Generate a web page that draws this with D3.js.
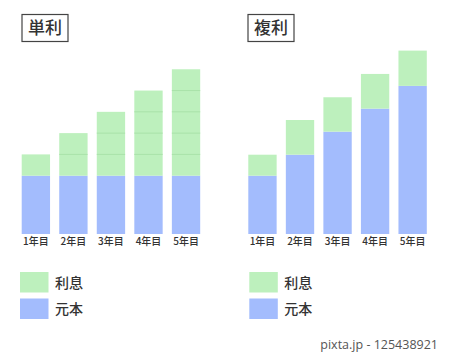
<!DOCTYPE html>
<html>
<head>
<meta charset="utf-8">
<script src="https://cdn.jsdelivr.net/npm/d3@7"></script>
<style>
  html, body { margin: 0; padding: 0; background: #fff; }
  svg { display: block; font-family: "Noto Sans CJK JP", "Noto Sans", sans-serif; }
</style>
</head>
<body>
<svg id="chart" width="450" height="353"></svg>
<script>
// ---- data ----
const YEARS = ['1年目', '2年目', '3年目', '4年目', '5年目'];
const SIMPLE_PRINCIPAL = [100, 100, 100, 100, 100];
const SIMPLE_INTEREST_PER_YEAR = 36.5;
const SIMPLE_YEARS_ACCRUED = [1, 2, 3, 4, 5];
const COMPOUND_PRINCIPAL = [100, 136, 175.5, 215, 254];
const COMPOUND_INTEREST = [36, 59.5, 59, 59.5, 60.5];
const LEGEND = [
  { key: '利息', color: '#bdf0bd' },
  { key: '元本', color: '#a3bcfd' }
];
const GREEN = '#bdf0bd', BLUE = '#a3bcfd', SEG_LINE = '#a9e2a9';

const svg = d3.select('#chart');
const y = d3.scaleLinear().domain([0, 320]).range([234, 47.4]);

function panel(o, title, principal, drawInterest) {
  const x = d3.scaleBand().domain(YEARS)
    .range([o.bars, o.bars + 178.5])
    .paddingInner(0.245).paddingOuter(0);
  const g = svg.append('g');

  // title box
  g.append('rect')
    .attr('x', o.box + 0.5).attr('y', 14.5)
    .attr('width', 46).attr('height', 27)
    .attr('fill', '#fff').attr('stroke', '#444').attr('stroke-width', 1.2);
  g.append('text')
    .attr('x', o.box + 23.5).attr('y', 34)
    .attr('text-anchor', 'middle')
    .attr('fill', '#333')
    .style('font-size', '17px').style('font-weight', '500')
    .text(title);

  // principal
  g.selectAll('.p').data(YEARS).enter().append('rect')
    .attr('x', d => x(d)).attr('width', x.bandwidth())
    .attr('y', (d, i) => y(principal[i]))
    .attr('height', (d, i) => y(0) - y(principal[i]))
    .attr('fill', BLUE);

  drawInterest(g, x);

  // x labels
  g.append('g')
    .attr('transform', 'translate(0,234)')
    .call(d3.axisBottom(x).tickSize(0).tickPadding(4))
    .call(a => a.select('.domain').remove())
    .call(a => a.selectAll('text')
      .attr('fill', '#333')
      .style('font-family', '"Noto Sans CJK JP", sans-serif')
      .style('font-size', '10px').style('font-weight', '500'));

  // legend
  LEGEND.forEach((l, i) => {
    g.append('rect')
      .attr('x', o.legend).attr('y', 272 + i * 26.5)
      .attr('width', 28.5).attr('height', 20.5)
      .attr('fill', l.color);
    g.append('text')
      .attr('x', o.legend + 35).attr('y', 287.5 + i * 26.5)
      .attr('fill', '#333')
      .style('font-size', '14px').style('font-weight', '500')
      .text(l.key);
  });
}

panel({ bars: 21.7, box: 21.5, legend: 20 }, '単利', SIMPLE_PRINCIPAL, (g, x) => {
  YEARS.forEach((yr, i) => {
    const base = SIMPLE_PRINCIPAL[i];
    const n = SIMPLE_YEARS_ACCRUED[i];
    g.append('rect')
      .attr('x', x(yr)).attr('width', x.bandwidth())
      .attr('y', y(base + n * SIMPLE_INTEREST_PER_YEAR))
      .attr('height', y(base) - y(base + n * SIMPLE_INTEREST_PER_YEAR))
      .attr('fill', GREEN);
    d3.range(1, n).forEach(k => {
      const yy = y(base + k * SIMPLE_INTEREST_PER_YEAR);
      g.append('line')
        .attr('x1', x(yr)).attr('x2', x(yr) + x.bandwidth())
        .attr('y1', yy).attr('y2', yy)
        .attr('stroke', SEG_LINE).attr('stroke-width', 1);
    });
  });
});

panel({ bars: 248.3, box: 247.5, legend: 249.3 }, '複利', COMPOUND_PRINCIPAL, (g, x) => {
  g.selectAll('.i').data(YEARS).enter().append('rect')
    .attr('x', d => x(d)).attr('width', x.bandwidth())
    .attr('y', (d, i) => y(COMPOUND_PRINCIPAL[i] + COMPOUND_INTEREST[i]))
    .attr('height', (d, i) => y(COMPOUND_PRINCIPAL[i]) - y(COMPOUND_PRINCIPAL[i] + COMPOUND_INTEREST[i]))
    .attr('fill', GREEN);
});

svg.append('text')
  .attr('x', 438).attr('y', 349)
  .attr('text-anchor', 'end')
  .attr('fill', '#555')
  .style('font-family', '"Open Sans", sans-serif')
  .style('font-size', '12.5px')
  .text('pixta.jp - 125438921');
</script>
</body>
</html>
